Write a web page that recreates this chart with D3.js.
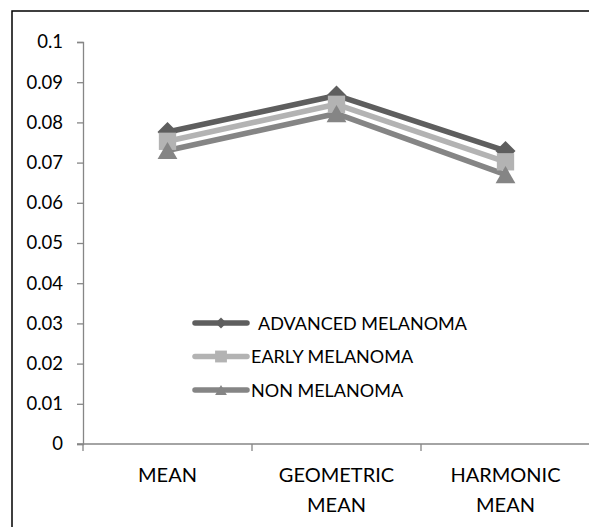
<!DOCTYPE html>
<html>
<head>
<meta charset="utf-8">
<script src="https://cdn.jsdelivr.net/npm/d3@7"></script>
<style>
  body { margin: 0; background: #fff; }
  svg text { font-family: Lato, "Open Sans", sans-serif; fill: #000; }
</style>
</head>
<body>
<div id="chart"></div>
<script>
var categories = ["MEAN", "GEOMETRIC MEAN", "HARMONIC MEAN"];
var seriesNames = ["ADVANCED MELANOMA", "EARLY MELANOMA", "NON MELANOMA"];
var advanced = [0.0776, 0.0867, 0.0729];
var early = [0.0753, 0.0845, 0.0702];
var nonMel = [0.0730, 0.0822, 0.0670];
var yTicks = [0, 0.01, 0.02, 0.03, 0.04, 0.05, 0.06, 0.07, 0.08, 0.09, 0.1];

var colors = ["#5e5e5e", "#b3b3b3", "#858585"];
var series = [advanced, early, nonMel];

// excel style diamond (square rotated)
var diamond = {
    draw: function(context, size){
        var r = Math.sqrt(size / 2);
        context.moveTo(0, -r);
        context.lineTo(r, 0);
        context.lineTo(0, r);
        context.lineTo(-r, 0);
        context.closePath();
    }
};
// triangle centred on its box
var triangle = {
    draw: function(context, size){
        var s = Math.sqrt(size / 0.433), h = s * 0.866;
        context.moveTo(0, -h / 2);
        context.lineTo(s / 2, h / 2);
        context.lineTo(-s / 2, h / 2);
        context.closePath();
    }
};
var shapes = [diamond, d3.symbolSquare, triangle];
var sizes = [200, 300, 170];
var legendSizes = [60, 140, 60];

var width = 589, height = 527;
var x0 = 83, x1 = 590, yTop = 42, yBot = 444;

var svg = d3.select("#chart").append("svg")
    .attr("width", width)
    .attr("height", height);

svg.append("rect")
    .attr("x", 12).attr("y", 11)
    .attr("width", 600).attr("height", 600)
    .attr("fill", "none")
    .attr("stroke", "#000")
    .attr("stroke-width", 1.5);

var xScale = d3.scaleBand()
    .domain(categories)
    .range([x0, x1]);
var yScale = d3.scaleLinear()
    .domain([0, 0.1])
    .range([yBot, yTop]);

// y axis
var yAxis = svg.append("g")
    .attr("transform", "translate(" + x0 + ",0)")
    .call(d3.axisLeft(yScale).tickValues(yTicks).tickSize(6).tickPadding(14)
        .tickFormat(function(d){ return String(+d.toFixed(2)); }));
yAxis.select(".domain").attr("stroke", "#868686").attr("stroke-width", 1.3);
yAxis.selectAll(".tick line").attr("stroke", "#868686").attr("stroke-width", 1.3);
yAxis.selectAll("text").style("font-size", "18.5px");

// x axis
var xAxis = svg.append("g")
    .attr("transform", "translate(0," + yBot + ")");
xAxis.append("line")
    .attr("x1", x0 - 6).attr("x2", x1)
    .attr("stroke", "#868686").attr("stroke-width", 1.3);
xAxis.selectAll(".xt")
    .data(categories)
    .enter()
    .append("line")
    .attr("class", "xt")
    .attr("x1", function(d){ return xScale(d); })
    .attr("x2", function(d){ return xScale(d); })
    .attr("y1", 0).attr("y2", 7)
    .attr("stroke", "#868686").attr("stroke-width", 1.3);
var xl = xAxis.selectAll(".xl")
    .data(categories)
    .enter()
    .append("text")
    .attr("class", "xl")
    .attr("text-anchor", "middle")
    .style("font-size", "20px")
    .attr("x", function(d){ return xScale(d) + xScale.bandwidth() / 2; })
    .attr("y", 38);
xl.each(function(d){
    var words = d.split(" ");
    var t = d3.select(this);
    words.forEach(function(w, i){
        t.append("tspan")
            .attr("x", xScale(d) + xScale.bandwidth() / 2)
            .attr("dy", i === 0 ? 0 : 29.5)
            .text(w);
    });
});

var line = d3.line()
    .x(function(d, i){ return xScale(categories[i]) + xScale.bandwidth() / 2; })
    .y(function(d){ return yScale(d); });

series.forEach(function(s, k){
    svg.append("path")
        .datum(s)
        .attr("d", line)
        .attr("fill", "none")
        .attr("stroke", colors[k])
        .attr("stroke-width", 5.5)
        .attr("stroke-linejoin", "round");
});
series.forEach(function(s, k){
    svg.selectAll(".m" + k)
        .data(s)
        .enter()
        .append("path")
        .attr("class", "m" + k)
        .attr("d", d3.symbol().type(shapes[k]).size(sizes[k]))
        .attr("fill", colors[k])
        .attr("transform", function(d, i){
            return "translate(" + (xScale(categories[i]) + xScale.bandwidth() / 2) + "," + yScale(d) + ")";
        });
});

// legend
var legend = svg.append("g");
seriesNames.forEach(function(name, k){
    var ly = 323 + k * 33.5;
    legend.append("line")
        .attr("x1", 195).attr("x2", 247)
        .attr("y1", ly).attr("y2", ly)
        .attr("stroke", colors[k])
        .attr("stroke-width", 5.5)
        .attr("stroke-linecap", "round");
    legend.append("path")
        .attr("d", d3.symbol().type(shapes[k]).size(legendSizes[k]))
        .attr("fill", colors[k])
        .attr("transform", "translate(221," + ly + ")");
    legend.append("text")
        .attr("x", k === 0 ? 258 : 251)
        .attr("y", ly + 6.5)
        .style("font-size", "18px")
        .text(name);
});
</script>
</body>
</html>
